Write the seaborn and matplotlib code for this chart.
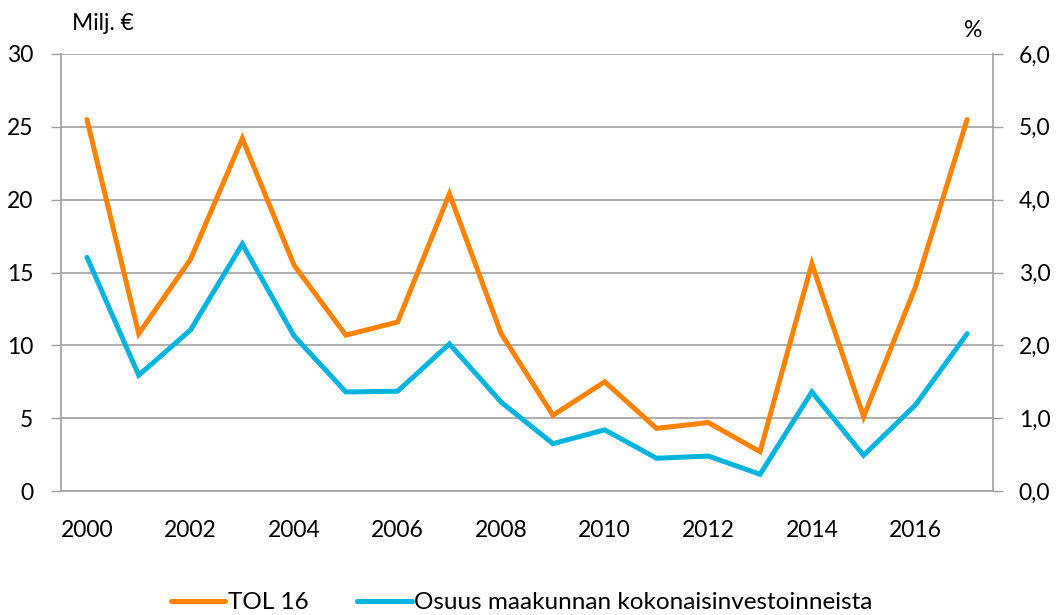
import numpy as np
import pandas as pd
import seaborn as sns
import matplotlib.pyplot as plt
from matplotlib.lines import Line2D
from matplotlib.ticker import FuncFormatter

# Data
years = list(range(2000, 2018))
tol16 = [25.5, 10.8, 15.9, 24.2, 15.5, 10.7, 11.6, 20.4, 10.8,
         5.2, 7.5, 4.3, 4.7, 2.7, 15.6, 5.1, 14.0, 25.5]
osuus = [3.21, 1.59, 2.21, 3.39, 2.13, 1.36, 1.37, 2.02, 1.22,
         0.65, 0.84, 0.45, 0.48, 0.23, 1.36, 0.49, 1.18, 2.16]

df = pd.DataFrame({"pos": np.arange(len(years)), "year": years,
                   "tol16": tol16, "osuus": osuus})

sns.set_theme(style="white")
plt.rcParams["font.family"] = ["Lato", "DejaVu Sans"]
plt.rcParams["text.color"] = "black"
plt.rcParams["xtick.color"] = "black"
plt.rcParams["ytick.color"] = "black"

orange = "#FF8200"
blue = "#00B4DE"
grey = "#A0A0A0"

fig = plt.figure(figsize=(10.58, 6.15), dpi=100)
ax = fig.add_axes([0.0577, 0.2016, 0.8809, 0.7106])
ax2 = ax.twinx()

sns.lineplot(data=df, x="pos", y="tol16", ax=ax, color=orange, lw=3.6,
             solid_capstyle="round", solid_joinstyle="miter", zorder=3)
sns.lineplot(data=df, x="pos", y="osuus", ax=ax2, color=blue, lw=3.6,
             solid_capstyle="round", solid_joinstyle="miter", zorder=3)

ax.set_xlim(-0.5, len(years) - 0.5)
ax.set_ylim(0, 30)
ax2.set_ylim(0, 6)
ax.set_yticks(range(0, 31, 5))
ax2.set_yticks(range(0, 7))
ax2.yaxis.set_major_formatter(FuncFormatter(lambda v, p: f"{v:.1f}".replace(".", ",")))

# year labels every second category, tick marks at category boundaries
ax.set_xticks(df["pos"][::2])
ax.set_xticklabels([str(y) for y in years[::2]])
ax.set_xticks(np.arange(-0.5, len(years)), minor=True)
ax.tick_params(axis="x", which="major", length=0, pad=21, labelsize=16.5)
ax.tick_params(axis="x", which="minor", length=6, width=1, color=grey,
               direction="out")
ax.tick_params(axis="y", length=7, width=1, color=grey, labelsize=16.5,
               pad=13, labelcolor="black")
ax2.tick_params(axis="y", length=7, width=1, color=grey, labelsize=16.5,
                pad=11.5, labelcolor="black")

ax.yaxis.grid(True, color=grey, lw=1.2)
ax.set_axisbelow(True)
for a in (ax, ax2):
    a.set_xlabel("")
    a.set_ylabel("")
    a.spines["top"].set_visible(False)
    for s in ("left", "right", "bottom"):
        a.spines[s].set_color(grey)
        a.spines[s].set_linewidth(1.2)
ax.spines["right"].set_visible(False)
ax2.spines["left"].set_visible(False)
ax2.spines["bottom"].set_visible(False)

fig.text(0.068, 0.962, "Milj. €", fontsize=16.5, va="center", ha="left")
fig.text(0.92, 0.95, "%", fontsize=16.5, va="center", ha="center")

handles = [Line2D([], [], color=orange, lw=3.6, solid_capstyle="round"),
           Line2D([], [], color=blue, lw=3.6, solid_capstyle="round")]
fig.legend(handles, ["TOL 16", "Osuus maakunnan kokonaisinvestoinneista"],
           loc="lower center", bbox_to_anchor=(0.493, -0.033), ncol=2,
           frameon=False, fontsize=17.5, handlelength=2.25, handletextpad=0.1,
           columnspacing=2.0)

fig.savefig("out.png", dpi=100)
